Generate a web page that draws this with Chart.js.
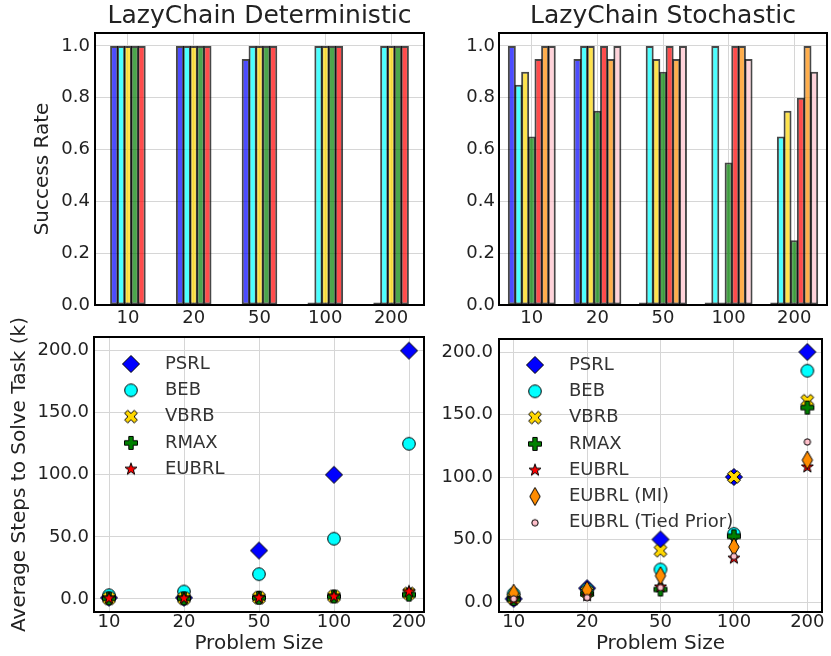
<!DOCTYPE html>
<html>
<head>
<meta charset="utf-8">
<script src="https://cdn.jsdelivr.net/npm/chart.js@4.4.1/dist/chart.umd.min.js"></script>
<style>
  body { margin: 0; background: #fff; }
  #wrap { position: relative; width: 831px; height: 656px; }
  canvas { position: absolute; }
</style>
</head>
<body>
<div id="wrap">
  <canvas id="detBars" width="435" height="330" style="left:0;top:0"></canvas>
  <canvas id="stoBars" width="396" height="330" style="left:435px;top:0"></canvas>
  <canvas id="detSteps" width="435" height="366" style="left:0;top:290px"></canvas>
  <canvas id="stoSteps" width="396" height="326" style="left:435px;top:330px"></canvas>
</div>
<script>
// Data
const problemSizes = ["10", "20", "50", "100", "200"];
const rateTicks = [0, 0.2, 0.4, 0.6, 0.8, 1.0];
const stepTicks = [0, 50, 100, 150, 200];

const detMethods = ["PSRL", "BEB", "VBRB", "RMAX", "EUBRL"];
const stoMethods = ["PSRL", "BEB", "VBRB", "RMAX", "EUBRL", "EUBRL (MI)", "EUBRL (Tied Prior)"];

// success rate, deterministic
const detRatePSRL = [1.0, 1.0, 0.95, 0.01, 0.01];
const detRateBEB = [1.0, 1.0, 1.0, 1.0, 1.0];
const detRateVBRB = [1.0, 1.0, 1.0, 1.0, 1.0];
const detRateRMAX = [1.0, 1.0, 1.0, 1.0, 1.0];
const detRateEUBRL = [1.0, 1.0, 1.0, 1.0, 1.0];

// success rate, stochastic
const stoRatePSRL = [1.0, 0.95, 0.01, 0.01, 0.01];
const stoRateBEB = [0.85, 1.0, 1.0, 1.0, 0.65];
const stoRateVBRB = [0.9, 1.0, 0.95, 0.01, 0.75];
const stoRateRMAX = [0.65, 0.75, 0.9, 0.55, 0.25];
const stoRateEUBRL = [0.95, 1.0, 1.0, 1.0, 0.8];
const stoRateMI = [1.0, 0.95, 0.95, 1.0, 1.0];
const stoRateTied = [1.0, 1.0, 1.0, 0.95, 0.9];

// average steps (k), deterministic
const detStepsPSRL = [1, 1, 39, 100, 200];
const detStepsBEB = [3, 6, 20, 48.5, 125];
const detStepsVBRB = [0.5, 0.5, 1, 2, 4.5];
const detStepsRMAX = [0.5, 0.5, 1, 2, 3.5];
const detStepsEUBRL = [0.5, 0.5, 1, 2, 6];

// average steps (k), stochastic
const stoStepsPSRL = [2.5, 11, 50, 100, 200];
const stoStepsBEB = [6.5, 10, 26, 54.5, 185];
const stoStepsVBRB = [3, 8, 41, 100, 161];
const stoStepsRMAX = [2.5, 6.5, 10, 52.5, 155.5];
const stoStepsEUBRL = [2, 5, 12, 35, 108];
const stoStepsMI = [7, 9.5, 21, 44, 113.5];
const stoStepsTied = [2.5, 3.5, 11.5, 36.5, 128];

const methodColors = ["#0000ff", "#00ffff", "#ffd700", "#008000", "#ff0000", "#ff8c00", "#ffc0cb"];
const methodShapes = ["diamond", "circle", "xfill", "plusfill", "star", "thindiamond", "dot"];

Chart.defaults.font.family = "'DejaVu Sans', sans-serif";
Chart.defaults.color = "#222";

const gridColor = "#d6d6d6";

function fade(hex, a) {
  const n = parseInt(hex.slice(1), 16);
  return "rgba(" + (n >> 16) + "," + ((n >> 8) & 255) + "," + (n & 255) + "," + a + ")";
}

function makeMarker(shape, color) {
  const c = document.createElement("canvas");
  c.width = 24;
  c.height = 24;
  const g = c.getContext("2d");
  g.translate(12, 12);
  g.beginPath();
  let pts = null;
  if (shape === "diamond") {
    pts = [[0, -8.5], [8.5, 0], [0, 8.5], [-8.5, 0]];
  } else if (shape === "thindiamond") {
    pts = [[0, -9], [5.2, 0], [0, 9], [-5.2, 0]];
  } else if (shape === "plusfill" || shape === "xfill") {
    const a = shape === "plusfill" ? 6.5 : 6.8, w = 2.2;
    pts = [[-w, -a], [w, -a], [w, -w], [a, -w], [a, w], [w, w], [w, a], [-w, a], [-w, w], [-a, w], [-a, -w], [-w, -w]];
    if (shape === "xfill") {
      const r = Math.PI / 4;
      pts = pts.map(([x, y]) => [x * Math.cos(r) - y * Math.sin(r), x * Math.sin(r) + y * Math.cos(r)]);
    }
  } else if (shape === "star") {
    pts = [];
    for (let k = 0; k < 10; k++) {
      const rad = k % 2 ? 2.5 : 6.3;
      const ang = -Math.PI / 2 + k * Math.PI / 5;
      pts.push([rad * Math.cos(ang), rad * Math.sin(ang)]);
    }
  }
  if (pts) {
    pts.forEach(([x, y], k) => (k ? g.lineTo(x, y) : g.moveTo(x, y)));
    g.closePath();
  } else {
    g.arc(0, 0, shape === "dot" ? 3.2 : 6.3, 0, Math.PI * 2);
  }
  g.fillStyle = color;
  g.fill();
  g.lineWidth = 1;
  g.strokeStyle = "#000";
  g.stroke();
  return c;
}

const markers = methodShapes.map((s, i) => makeMarker(s, methodColors[i]));

// black box round the plot area
const framePlugin = {
  id: "frame",
  afterDraw(chart) {
    const { ctx, chartArea: a } = chart;
    ctx.save();
    ctx.lineWidth = 2;
    ctx.strokeStyle = "#000";
    ctx.strokeRect(a.left, a.top, a.right - a.left, a.bottom - a.top);
    ctx.restore();
  },
};

// legend drawn inside the plot, upper left
const insideLegend = {
  id: "insideLegend",
  afterDraw(chart, args, opts) {
    const { ctx, chartArea: a } = chart;
    ctx.save();
    ctx.font = "18px 'DejaVu Sans'";
    ctx.fillStyle = "#333";
    ctx.textBaseline = "middle";
    ctx.textAlign = "left";
    chart.data.datasets.forEach((ds, i) => {
      const y = a.top + opts.top + i * opts.step;
      const img = ds.pointStyle;
      ctx.drawImage(img, a.left + opts.markerX - img.width / 2, y - img.height / 2);
      ctx.fillText(ds.label, a.left + opts.textX, y);
    });
    ctx.restore();
  },
};

function noPad(s) {
  s.paddingTop = 0;
  s.paddingBottom = 0;
  s.paddingLeft = 0;
  s.paddingRight = 0;
}

function barChart(id, title, methods, series, cfg) {
  new Chart(document.getElementById(id), {
    type: "bar",
    data: {
      labels: problemSizes,
      datasets: methods.map((m, i) => ({
        label: m,
        data: series[i],
        backgroundColor: fade(methodColors[i], 0.7),
        borderColor: "rgba(0,0,0,0.72)",
        borderWidth: 2,
        borderSkipped: false,
        categoryPercentage: cfg.groupWidth,
        barPercentage: 1.2,
      })),
    },
    options: {
      responsive: false,
      animation: false,
      layout: { padding: { left: 0, right: cfg.padRight, top: 0, bottom: 0 } },
      plugins: {
        legend: { display: false },
        tooltip: { enabled: false },
        title: {
          display: true,
          text: title,
          fullSize: false,
          color: "#222",
          font: { size: 25, weight: "normal" },
          padding: { top: 1, bottom: 2 },
        },
      },
      scales: {
        x: {
          grid: { offset: false, color: gridColor, drawTicks: false },
          border: { display: false },
          ticks: { font: { size: 18 }, padding: 3, maxRotation: 0, autoSkip: false },
          afterFit: (s) => { s.height = 25; noPad(s); },
        },
        y: {
          min: 0,
          max: 1.05,
          afterBuildTicks: (s) => { s.ticks = rateTicks.map((v) => ({ value: v })); },
          ticks: { font: { size: 18 }, padding: cfg.tickPad, callback: (v) => v.toFixed(1) },
          grid: { color: gridColor, drawTicks: false },
          border: { display: false },
          title: {
            display: !!cfg.yTitle,
            text: cfg.yTitle || "",
            font: { size: 20 },
            padding: { top: 31, bottom: 0 },
          },
          afterFit: (s) => { s.width = cfg.yWidth; noPad(s); },
        },
      },
    },
    plugins: [framePlugin],
  });
}

function stepChart(id, methods, series, cfg) {
  new Chart(document.getElementById(id), {
    type: "scatter",
    data: {
      datasets: methods.map((m, i) => ({
        label: m,
        data: series[i].map((v, k) => ({ x: k, y: v })),
        pointStyle: markers[i],
        pointRadius: 8,
        order: methods.length - i,
      })),
    },
    options: {
      responsive: false,
      animation: false,
      layout: { padding: { left: 0, right: cfg.padRight, top: cfg.padTop, bottom: 0 } },
      plugins: {
        legend: { display: false },
        tooltip: { enabled: false },
        insideLegend: cfg.legend,
      },
      scales: {
        x: {
          type: "linear",
          min: -0.2,
          max: 4.2,
          afterBuildTicks: (s) => { s.ticks = problemSizes.map((p, k) => ({ value: k })); },
          ticks: { font: { size: 18 }, padding: 0, maxRotation: 0, callback: (v) => problemSizes[Math.round(v)] },
          grid: { color: gridColor, drawTicks: false },
          border: { display: false },
          title: { display: true, text: "Problem Size", font: { size: 20 }, padding: { top: 0, bottom: 0 } },
          afterFit: (s) => { s.height = 44; noPad(s); },
        },
        y: {
          min: cfg.yMin,
          max: cfg.yMax,
          afterBuildTicks: (s) => { s.ticks = stepTicks.map((v) => ({ value: v })); },
          ticks: { font: { size: 18 }, padding: cfg.tickPad, callback: (v) => v.toFixed(1) },
          grid: { color: gridColor, drawTicks: false },
          border: { display: false },
          title: {
            display: !!cfg.yTitle,
            text: cfg.yTitle || "",
            font: { size: 20 },
            padding: { top: 8, bottom: 0 },
          },
          afterFit: (s) => { s.width = cfg.yWidth; noPad(s); },
        },
      },
    },
    plugins: [framePlugin, insideLegend],
  });
}

barChart("detBars", "LazyChain Deterministic", detMethods,
  [detRatePSRL, detRateBEB, detRateVBRB, detRateRMAX, detRateEUBRL],
  { groupWidth: 0.52, padRight: 11, yWidth: 95, tickPad: 5, yTitle: "Success Rate" });

barChart("stoBars", "LazyChain Stochastic", stoMethods,
  [stoRatePSRL, stoRateBEB, stoRateVBRB, stoRateRMAX, stoRateEUBRL, stoRateMI, stoRateTied],
  { groupWidth: 0.71, padRight: 4, yWidth: 64, tickPad: 4 });

stepChart("detSteps", detMethods,
  [detStepsPSRL, detStepsBEB, detStepsVBRB, detStepsRMAX, detStepsEUBRL],
  { padRight: 11, padTop: 47, yWidth: 94, tickPad: 5, yMin: -10.5, yMax: 211,
    yTitle: "Average Steps to Solve Task (k)",
    legend: { markerX: 37, textX: 71, top: 27, step: 26.3 } });

stepChart("stoSteps", stoMethods,
  [stoStepsPSRL, stoStepsBEB, stoStepsVBRB, stoStepsRMAX, stoStepsEUBRL, stoStepsMI, stoStepsTied],
  { padRight: 3, padTop: 8, yWidth: 64, tickPad: 6, yMin: -8, yMax: 210.4,
    legend: { markerX: 36, textX: 70, top: 26, step: 26.3 } });
</script>
</body>
</html>
